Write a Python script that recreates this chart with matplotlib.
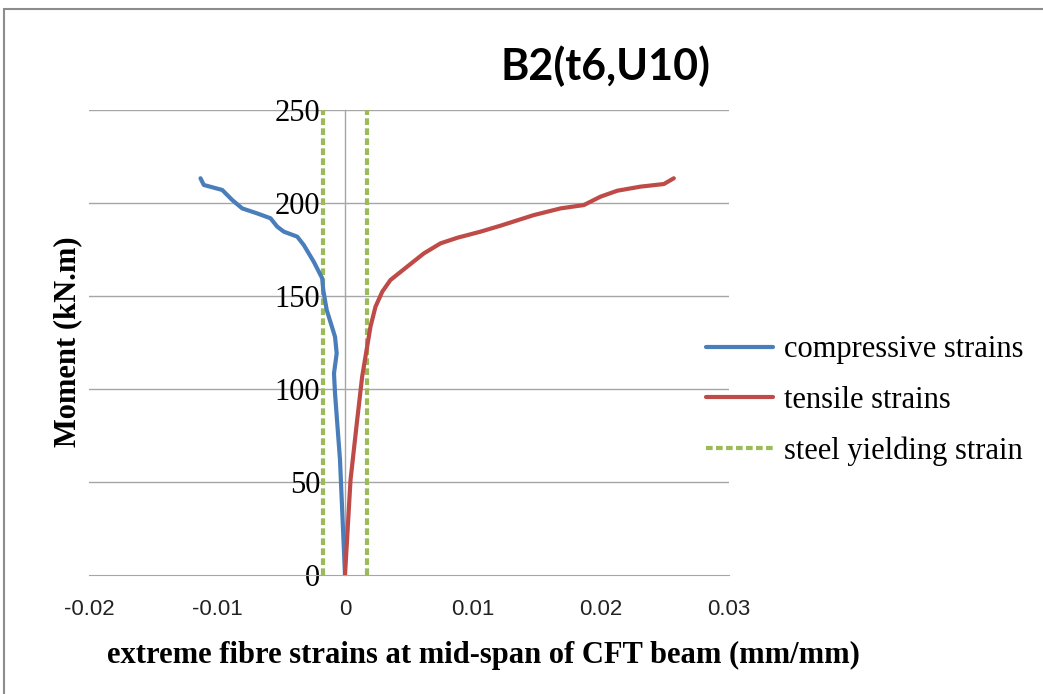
import matplotlib
matplotlib.use("Agg")
import matplotlib.pyplot as plt
import matplotlib.patches as mpatches

# strains (mm/mm) vs moment (kN.m)
comp_strain = [0.0, -0.00039, -0.00078, -0.00086, -0.00065, -0.00078, -0.00143,
               -0.0017, -0.00178, -0.00244, -0.00322, -0.00373, -0.00478,
               -0.0053, -0.00582, -0.00686, -0.00803, -0.00881, -0.00959,
               -0.01103, -0.01129]
comp_moment = [0.0, 61.8, 97.7, 108.4, 119.2, 128.1, 142.5, 153.2, 159.5, 168.4,
               177.4, 181.9, 184.6, 187.3, 191.8, 194.4, 197.1, 201.6, 207.0,
               209.7, 213.3]

tens_strain = [0.0, 0.00043, 0.00095, 0.00134, 0.0016, 0.00199, 0.00238,
               0.00291, 0.00355, 0.00486, 0.00616, 0.00746, 0.00877, 0.01059,
               0.01215, 0.01475, 0.01684, 0.01866, 0.01996, 0.02127, 0.02309,
               0.02491, 0.02569]
tens_moment = [0.0, 51.0, 83.3, 106.6, 117.4, 133.5, 144.2, 152.3, 158.6, 165.8,
               172.9, 178.3, 181.3, 184.6, 187.8, 193.5, 197.1, 198.9, 203.4,
               206.6, 208.8, 210.2, 213.3]

yield_strain = 0.0017
yield_moment = [0, 250]

x_ticks = [-0.02, -0.01, 0, 0.01, 0.02, 0.03]
x_labels = ["-0.02", "-0.01", "0", "0.01", "0.02", "0.03"]
y_ticks = [0, 50, 100, 150, 200, 250]

BLUE = "#4a7ebb"
RED = "#be4b48"
GREEN = "#9bbb59"
GRID = "#a6a6a6"

fig = plt.figure(figsize=(10.43, 6.94), dpi=100)
ax = fig.add_axes([89 / 1043, 1 - 575 / 694, 640 / 1043, 465 / 694])

# axis crosses at x = 0, set before the tick labels (set_position resets them)
for s in ["top", "right"]:
    ax.spines[s].set_visible(False)
ax.spines["bottom"].set_color(GRID)
ax.spines["left"].set_position(("data", 0))
ax.spines["left"].set_color(GRID)
ax.spines["left"].set_linewidth(1.0)

ax.plot(comp_strain, comp_moment, color=BLUE, lw=3.0, label="compressive strains",
        solid_capstyle="round", solid_joinstyle="round", zorder=4)
ax.plot(tens_strain, tens_moment, color=RED, lw=3.0, label="tensile strains",
        solid_capstyle="round", solid_joinstyle="round", zorder=4)
ax.plot([-yield_strain, -yield_strain], yield_moment, color=GREEN, lw=3.0,
        ls=(0, (1.6, 0.8)), label="steel yielding strain", zorder=3)
ax.plot([yield_strain, yield_strain], yield_moment, color=GREEN, lw=3.0,
        ls=(0, (1.6, 0.8)), zorder=3)

ax.set_xlim(-0.02, 0.03)
ax.set_ylim(0, 250)
ax.set_xticks(x_ticks)
ax.set_xticklabels(x_labels, fontsize=16, family="Liberation Sans", color="#222222")
ax.set_yticks(y_ticks)
ax.set_yticklabels([str(v) for v in y_ticks], fontsize=22, family="Liberation Serif")

for v in y_ticks[1:]:
    ax.axhline(v, color=GRID, lw=1.0, zorder=1)

ax.tick_params(axis="both", length=0)
ax.tick_params(axis="x", pad=17)
ax.tick_params(axis="y", pad=18)

fig.text(483 / 1043, 1 - 655 / 694, "extreme fibre strains at mid-span of CFT beam (mm/mm)",
         ha="center", va="center", fontsize=22, fontweight="bold", family="Liberation Serif")
fig.text(68 / 1043, 1 - 342 / 694, "Moment (kN.m)", rotation=90, ha="center", va="center",
         fontsize=22, fontweight="bold", family="Liberation Serif")
fig.text(606 / 1043, 1 - 66 / 694, "B2(t6,U10)", ha="center", va="center",
         fontsize=31, fontweight="bold", family="Lato")

ax.legend(loc="center left", bbox_to_anchor=(605 / 640, 0.375), frameon=False,
          prop={"family": "Liberation Serif", "size": 22}, handlelength=2.2,
          labelspacing=0.7, handletextpad=0.35, borderaxespad=0)

fig.patches.append(mpatches.Rectangle((4 / 1043, -0.1), 1.2, 1 - 9 / 694 + 0.1,
                                      transform=fig.transFigure, fill=False,
                                      edgecolor="#8c8c8c", lw=1.5))

fig.savefig("out.png", dpi=100, facecolor="white")
